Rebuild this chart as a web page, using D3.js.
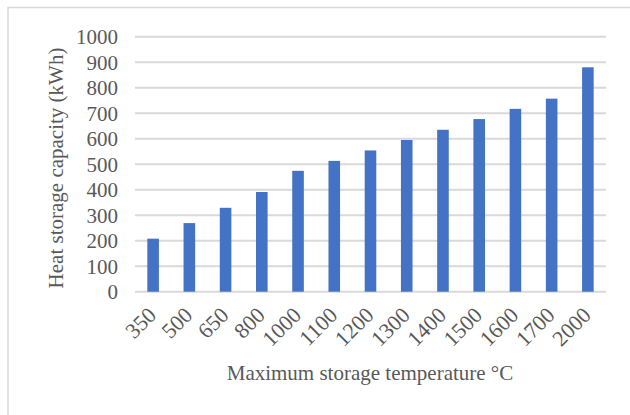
<!DOCTYPE html>
<html>
<head>
<meta charset="utf-8">
<script src="https://cdn.jsdelivr.net/npm/d3@7"></script>
<style>
  body { margin: 0; background: #fff; }
  text { font-family: "Liberation Serif", "Times New Roman", serif; fill: #595959; }
</style>
</head>
<body>
<div class="graph"></div>
<script>
// chart data
const temps = ["350","500","650","800","1000","1100","1200","1300","1400","1500","1600","1700","2000"]
const capacity = [208, 269, 329, 391, 474, 513, 554, 595, 635, 677, 717, 757, 880]
const yTicks = [0,100,200,300,400,500,600,700,800,900,1000]

const W = 630, H = 415
const plotLeft = 135, plotRight = 606, plotTop = 36.7, plotBottom = 291.7

let svg = d3.select('.graph')
    .append('svg')
    .attr("width", W)
    .attr("height", H)

// chart frame (only top and left edges visible)
svg.append('rect')
    .attr('x', 8).attr('y', 7.5)
    .attr('width', 700).attr('height', 500)
    .attr('fill', 'none')
    .attr('stroke', '#d9d9d9')
    .attr('stroke-width', 1.5)

let x = d3.scaleBand()
    .domain(temps)
    .range([plotLeft, plotRight])
    .paddingInner(0.68)
    .paddingOuter(0.34)

let y = d3.scaleLinear()
    .domain([0, 1000])
    .range([plotBottom, plotTop])

// gridlines
svg.append('g')
    .selectAll('line')
    .data(yTicks)
    .enter()
    .append('line')
    .attr('x1', plotLeft).attr('x2', plotRight)
    .attr('y1', d => y(d)).attr('y2', d => y(d))
    .attr('stroke', '#d9d9d9')
    .attr('stroke-width', 2)

// y tick labels
svg.append('g')
    .selectAll('text')
    .data(yTicks)
    .enter()
    .append('text')
    .attr('x', 118)
    .attr('y', d => y(d))
    .attr('dy', '0.35em')
    .attr('text-anchor', 'end')
    .style('font-size', '21px')
    .text(d => d)

// bars
svg.append('g')
    .selectAll('rect')
    .data(capacity)
    .enter()
    .append('rect')
    .attr('x', (d, i) => x(temps[i]))
    .attr('y', d => y(d))
    .attr('width', x.bandwidth())
    .attr('height', d => plotBottom - y(d))
    .attr('fill', '#4472c4')

// x tick labels, rotated
svg.append('g')
    .selectAll('text')
    .data(temps)
    .enter()
    .append('text')
    .attr('transform', d => 'translate(' + (x(d) + x.bandwidth() / 2 - 1) + ',' + 311 + ') rotate(-45)')
    .attr('text-anchor', 'end')
    .attr('dy', '0.35em')
    .style('font-size', '22px')
    .text(d => d)

// axis titles
svg.append('text')
    .attr('x', 370).attr('y', 380)
    .attr('text-anchor', 'middle')
    .style('font-size', '21px')
    .text('Maximum storage temperature °C')

svg.append('text')
    .attr('transform', 'translate(63,168) rotate(-90)')
    .attr('text-anchor', 'middle')
    .style('font-size', '21px')
    .text('Heat storage capacity (kWh)')
</script>
</body>
</html>
